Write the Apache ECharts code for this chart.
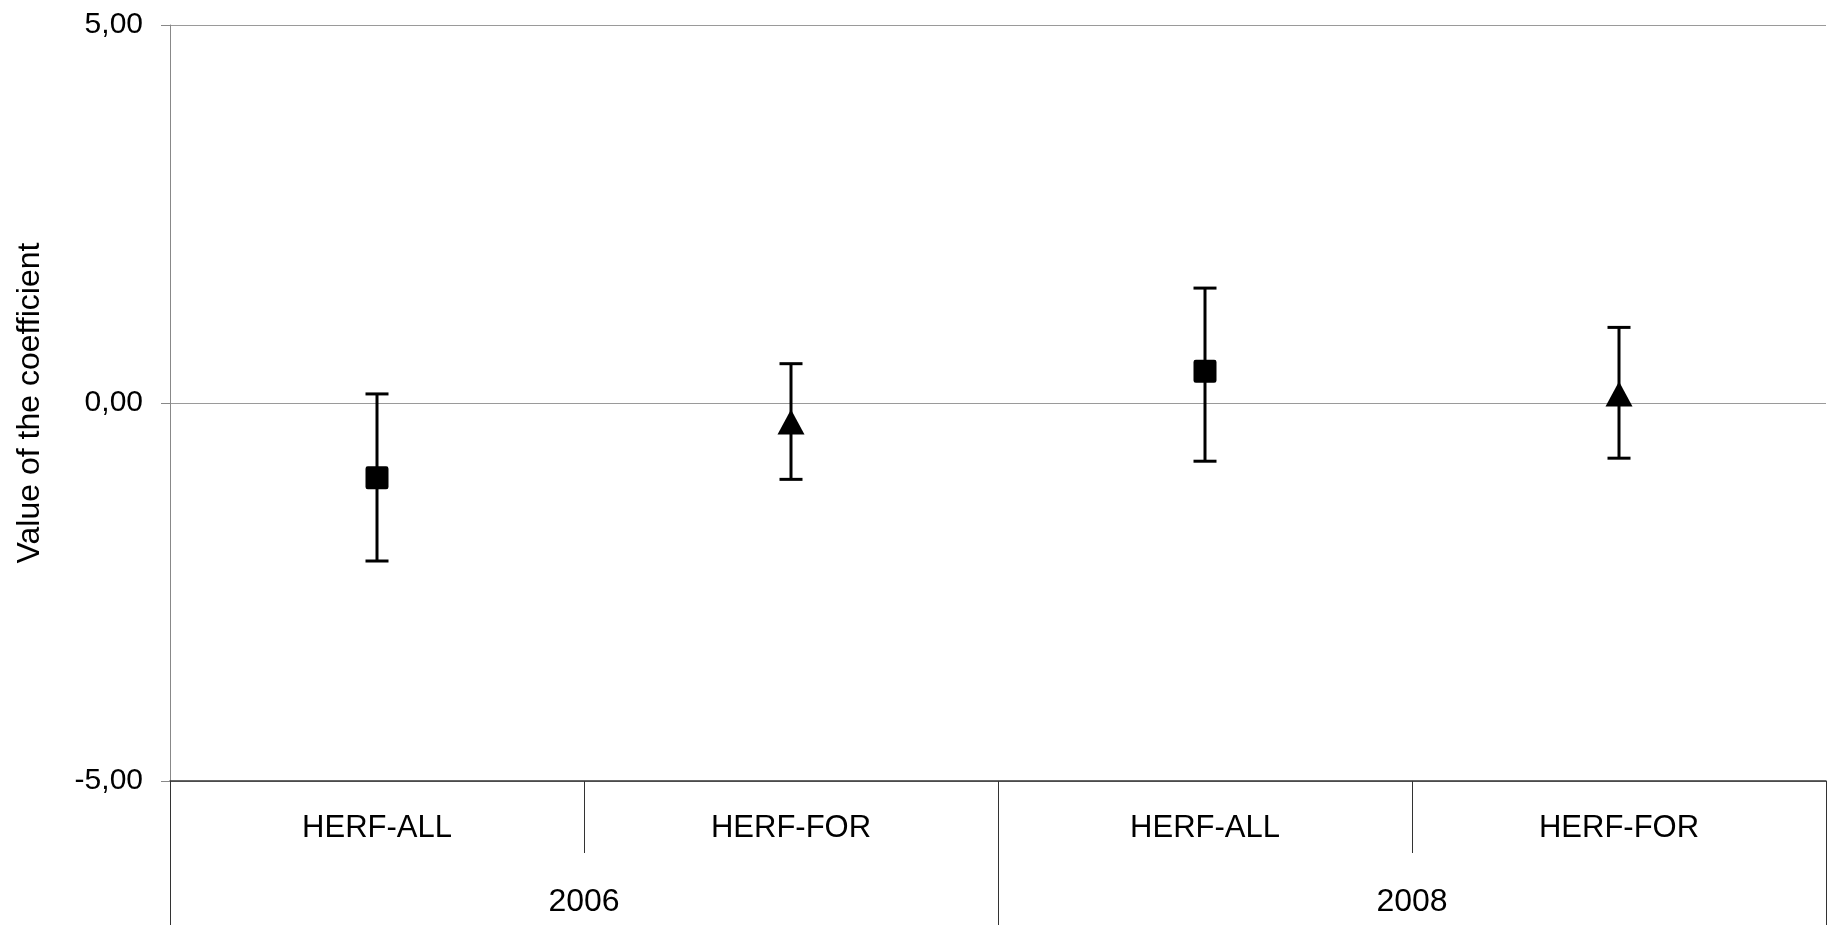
<!DOCTYPE html>
<html>
<head>
<meta charset="utf-8">
<script src="https://cdn.jsdelivr.net/npm/echarts@6/dist/echarts.min.js"></script>
<style>
html,body{margin:0;padding:0;background:#fff;}
#chart{width:1828px;height:925px;}
</style>
</head>
<body>
<div id="chart"></div>
<script>
const categories = ['HERF-ALL', 'HERF-FOR', 'HERF-ALL', 'HERF-FOR'];
const years = ['2006', '2008'];
const coef = [-0.99, -0.25, 0.42, 0.12];
const lower = [-2.09, -1.01, -0.77, -0.73];
const upper = [0.12, 0.52, 1.52, 1.00];
const markerKinds = ['square', 'triangle', 'square', 'triangle'];
const yTickValues = [-5, 0, 5];

const FONT = '"Liberation Sans", Arial, sans-serif';
const SQUARE_PATH = 'path://M1,0H9A1,1 0 0 1 10,1V9A1,1 0 0 1 9,10H1A1,1 0 0 1 0,9V1A1,1 0 0 1 1,0Z';

const pointData = coef.map((v, i) => ({
  value: [i, v],
  symbol: markerKinds[i] === 'triangle' ? 'triangle' : SQUARE_PATH,
  symbolSize: markerKinds[i] === 'triangle' ? [27, 25] : [23, 23]
}));
const errData = coef.map((v, i) => [i, lower[i], upper[i]]);

const chart = echarts.init(document.getElementById('chart'), null, {renderer: 'canvas'});
chart.setOption({
  animation: false,
  backgroundColor: '#ffffff',
  grid: {left: 170, right: 2, top: 25, bottom: 144, containLabel: false},
  xAxis: [
    {
      type: 'category',
      data: categories,
      position: 'bottom',
      boundaryGap: true,
      axisLine: {show: true, onZero: false, lineStyle: {color: '#333333', width: 1.5}},
      axisTick: {show: true, interval: 0, length: 72, lineStyle: {color: '#333333', width: 1}},
      axisLabel: {interval: 0, margin: 32, fontFamily: FONT, fontSize: 31, color: '#000'},
      splitLine: {show: false}
    },
    {
      type: 'category',
      data: years,
      position: 'bottom',
      boundaryGap: true,
      axisLine: {show: false, onZero: false},
      axisTick: {show: true, interval: 0, length: 144, lineStyle: {color: '#333333', width: 1}},
      axisLabel: {interval: 0, margin: 105, fontFamily: FONT, fontSize: 32, color: '#000'},
      splitLine: {show: false}
    }
  ],
  yAxis: {
    type: 'value',
    min: yTickValues[0],
    max: yTickValues[yTickValues.length - 1],
    interval: 5,
    name: 'Value of the coefficient',
    nameLocation: 'middle',
    nameGap: 124,
    nameTextStyle: {fontFamily: FONT, fontSize: 32, color: '#000'},
    axisLine: {show: true, lineStyle: {color: '#888888', width: 1}},
    axisTick: {show: true, inside: false, length: 9, lineStyle: {color: '#888888'}},
    axisLabel: {
      margin: 27, fontFamily: FONT, fontSize: 30, color: '#000',
      formatter: v => v.toFixed(2).replace('.', ',')
    },
    splitLine: {show: true, lineStyle: {color: '#9a9a9a', width: 1}}
  },
  series: [
    {
      type: 'custom',
      xAxisIndex: 0,
      data: errData,
      encode: {x: 0, y: [1, 2]},
      z: 3,
      renderItem: function (params, api) {
        const x = api.value(0);
        const pLo = api.coord([x, api.value(1)]);
        const pHi = api.coord([x, api.value(2)]);
        const half = 11.5;
        const st = {stroke: '#000', lineWidth: 3};
        return {
          type: 'group',
          children: [
            {type: 'line', shape: {x1: pLo[0], y1: pLo[1], x2: pHi[0], y2: pHi[1]}, style: st},
            {type: 'line', shape: {x1: pLo[0] - half, y1: pLo[1], x2: pLo[0] + half, y2: pLo[1]}, style: st},
            {type: 'line', shape: {x1: pHi[0] - half, y1: pHi[1], x2: pHi[0] + half, y2: pHi[1]}, style: st}
          ]
        };
      }
    },
    {
      type: 'scatter',
      xAxisIndex: 0,
      data: pointData,
      z: 4,
      itemStyle: {color: '#000', opacity: 1}
    }
  ]
});
</script>
</body>
</html>
